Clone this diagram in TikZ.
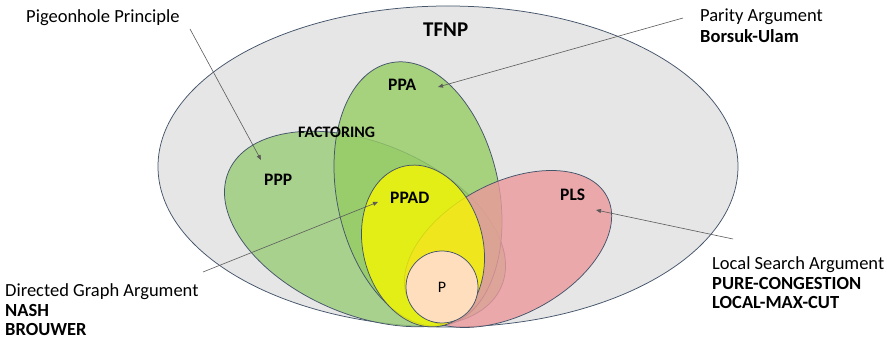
\documentclass[tikz,border=0pt]{standalone}
\usepackage{fontspec}
\setmainfont{Carlito}
\usetikzlibrary{arrows.meta}
\definecolor{edgec}{RGB}{68,84,106}
\definecolor{tfnpc}{RGB}{230,230,230}
\definecolor{pppc}{RGB}{154,204,120}
\definecolor{ppac}{RGB}{150,205,100}
\definecolor{plsc}{RGB}{235,153,157}
\definecolor{ppadc}{RGB}{245,247,0}
\definecolor{pc}{RGB}{255,222,190}
\definecolor{arrowc}{RGB}{90,90,90}
\begin{document}
\begin{tikzpicture}[x=1pt,y=1pt,
  setshape/.style={draw=edgec, line width=0.75pt},
  translucent/.style={fill opacity=0.8},
  setlabel/.style={font=\fontsize{17.5}{20}\selectfont\bfseries, anchor=base west, inner sep=0pt},
  note/.style={font=\fontsize{18.5}{20}\selectfont, anchor=base west, inner sep=0pt},
  notebold/.style={font=\fontsize{18.5}{20}\selectfont\bfseries, anchor=base west, inner sep=0pt},
  pointer/.style={draw=arrowc, line width=0.6pt, -{Triangle[length=5pt,width=4pt]}}]
\useasboundingbox (0,0) rectangle (887,339);

% sets
\draw[setshape, fill=tfnpc] (448,172.5) ellipse [x radius=290pt, y radius=160.5pt];
\draw[setshape, translucent, fill=pppc, rotate around={-22.7:(365,110)}] (365,110) ellipse [x radius=148pt, y radius=86pt];
\draw[setshape, translucent, fill=ppac, rotate around={12:(418,145)}] (418,145) ellipse [x radius=81pt, y radius=134pt];
\draw[setshape, translucent, fill=plsc, rotate around={28:(508,90)}] (508,90) ellipse [x radius=112pt, y radius=66pt];
\draw[setshape, translucent, fill=ppadc, rotate around={14:(423,93)}] (423,93) ellipse [x radius=60pt, y radius=82pt];
\draw[setshape, fill=pc] (442,52) circle [radius=36pt];

% set labels
\node[setlabel, font=\fontsize{21}{24}\selectfont\bfseries] (tfnp) at (423,302) {TFNP};
\node[setlabel] (ppa) at (388,248) {PPA};
\node[setlabel, font=\fontsize{16}{18}\selectfont\bfseries] (factoring) at (298,201) {FACTORING};
\node[setlabel] (ppp) at (264,153) {PPP};
\node[setlabel] (ppad) at (390,135) {PPAD};
\node[setlabel] (pls) at (560,138) {PLS};
\node[font=\fontsize{16}{18}\selectfont, inner sep=0pt] (p) at (442,52) {P};

% annotations
\node[note] (pig) at (26,316) {Pigeonhole Principle};
\node[note] (par) at (700,317) {Parity Argument};
\node[notebold] (bu) at (700,296) {Borsuk-Ulam};
\node[note] (dga) at (5,42) {Directed Graph Argument};
\node[notebold] (nash) at (5,22.5) {NASH};
\node[notebold] (brouwer) at (5,3.5) {BROUWER};
\node[note] (lsa) at (712,69) {Local Search Argument};
\node[notebold] (pc1) at (712,49) {PURE-CONGESTION};
\node[notebold] (lmc) at (712,30) {LOCAL-MAX-CUT};

% pointers
\coordinate (pigS) at (190,310);
\coordinate (pigE) at (261,179);
\coordinate (parS) at (683,321);
\coordinate (parE) at (438,252);
\coordinate (dgaS) at (203,67);
\coordinate (dgaE) at (378,137);
\coordinate (lsaS) at (733,100);
\coordinate (lsaE) at (596,129);
\draw[pointer] (pigS) -- (pigE);
\draw[pointer] (parS) -- (parE);
\draw[pointer] (dgaS) -- (dgaE);
\draw[pointer] (lsaS) -- (lsaE);
\end{tikzpicture}
\end{document}
